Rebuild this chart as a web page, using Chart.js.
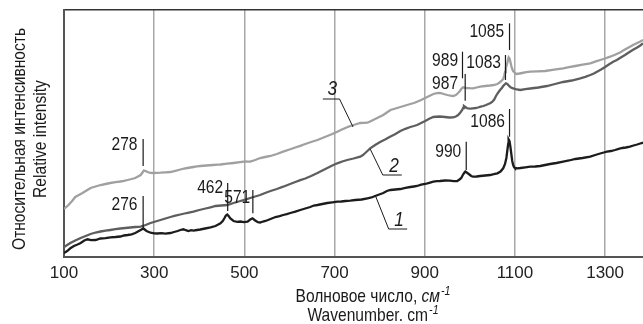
<!DOCTYPE html>
<html>
<head>
<meta charset="utf-8">
<script src="https://cdn.jsdelivr.net/npm/chart.js@4/dist/chart.umd.min.js"></script>
<style>
html,body{margin:0;padding:0;background:#fff;}
#c{display:block;}
</style>
</head>
<body>
<canvas id="c" width="643" height="324"></canvas>
<script>
// ---------------- DATA ----------------
const xTickValues = [100, 300, 500, 700, 900, 1100, 1300];

// Curve 1 (black)
const wn1 = [100,107,114,122,130,137,145,152,160,170,181,192,203,214,225,233,241,250,258,264,270,276,283,292,300,307,316,325,336,344,352,358,365,370,376,382,387,395,402,413,425,436,447,452,456,459,462,465,469,476,484,491,499,507,513,518,524,530,535,541,547,558,569,578,586,594,602,613,624,635,646,654,662,673,684,695,706,715,724,735,746,760,773,782,790,799,808,816,824,835,846,857,868,876,883,892,901,910,919,927,934,945,956,964,972,977,981,985,988,990,993,996,999,1003,1007,1015,1023,1034,1045,1053,1061,1068,1074,1078,1081,1083,1085,1086,1088,1090,1092,1094,1096,1098,1100,1106,1112,1123,1134,1145,1156,1167,1178,1192,1207,1220,1234,1250,1267,1278,1289,1297,1304,1313,1322,1330,1338,1346,1355,1363,1371,1378,1384];
const int1 = [4,6,8.7,11,12.5,14,16.5,17.7,16.8,17,18.5,18.8,19.7,20,20.5,21.5,22,22.7,24,25.5,27,28.5,26,24.3,23.7,23.5,23.8,23.3,24,25,26,27,27.7,26.8,26,26.8,26.3,27,27.5,28.5,29.7,31,33.7,36,39,41.5,42.5,41,38.5,36,35.2,35.5,34.8,35.3,37.5,38.7,36.5,34.8,34.5,35.5,36,38,40,40.8,42,42.8,44,45.3,47,48.5,50,51.5,52,53,54,54.6,55.3,55.5,56,56.3,57,57.5,58.7,59.5,61,62.5,64,66,67,67.5,68,69.2,70,70.5,71,72.3,73,74.2,75.3,75.8,76,76.5,76.3,75.8,76,77.5,79,82.5,84.5,85.5,84.5,83.5,82.5,81,80.3,80.5,81,81.5,82,82.8,83.7,85.5,88.7,93,99,106,113,117.7,116,110,103,96,92,90,89,88.7,89,89.7,90.3,90.5,91,92,93,94,95.3,96.5,98,99,100.3,102,103.5,104.5,105.3,106,107,108.2,109,109.5,110.3,111.5,112.5,113.5,114.3];

// Curve 2 (dark grey)
const wn2 = [100,107,114,125,137,148,159,170,181,192,203,214,225,236,247,258,270,281,292,303,314,325,336,347,358,372,387,400,414,425,436,449,462,476,491,502,513,524,535,546,558,572,586,600,613,624,635,648,662,673,684,695,706,717,728,742,757,763,768,774,779,790,801,812,823,835,846,857,868,876,883,892,901,910,919,932,945,954,963,969,974,979,983,985,987,990,993,996,1002,1007,1013,1018,1024,1030,1036,1041,1046,1050,1054,1058,1063,1067,1071,1074,1077,1080,1083,1087,1091,1096,1104,1112,1123,1134,1152,1171,1189,1207,1226,1245,1256,1267,1275,1282,1291,1300,1309,1318,1326,1333,1344,1355,1363,1371,1378,1384];
const int2 = [10,12,14,16.5,19,21,23,24.5,25.5,26.3,27,27.8,28.5,29,29.5,30,30.3,32,34,35.5,37,38.5,40,41.3,42.5,44,45.3,47,48.5,49.7,51,51.5,52,54,56,57.3,59,60.5,62,64,66,68,70.3,72.8,75,76.8,78.5,81,84,86.5,89,91.5,93.7,95.5,97,98.5,100.3,102,104,106.5,108.7,112,115,117.5,120.3,123,126,128.2,130,131,132,134,136,138.2,140,140.5,140,139.5,139.7,140.5,142,144.5,147,149,151,150,149,148.6,148.3,148.7,149,149.5,150.3,151,152,153,154,155.3,157.5,161,164.5,167,169,171,172.5,173.7,173,171,169.5,168.7,167.5,167,167.8,168.5,169.5,171,173,175,176.5,178.7,180.2,182,183.5,185.3,187.5,190,192.8,195.3,197,199,202,205.3,207.5,209.5,211.5,213.7];

// Curve 3 (light grey)
const wn3 = [100,105,110,118,125,133,141,150,159,170,181,192,203,214,225,233,241,250,258,264,270,274,277,281,285,290,296,305,314,325,336,347,358,366,374,380,387,395,402,416,431,440,447,462,476,490,502,508,513,524,535,546,558,572,586,600,613,624,635,648,662,673,684,695,706,715,724,730,735,746,757,765,773,781,790,799,808,816,824,835,846,857,868,876,883,892,901,910,919,927,934,942,950,957,963,969,974,978,981,983,985,988,992,1000,1007,1015,1023,1034,1045,1053,1061,1066,1070,1074,1076,1078,1080,1083,1086,1088,1090,1092,1094,1096,1098,1103,1110,1116,1125,1134,1150,1167,1187,1207,1220,1234,1250,1267,1278,1289,1300,1311,1322,1333,1344,1355,1363,1371,1378,1384];
const int3 = [48,50,52,56,60,62,64,66.5,69,70.5,72,73,74,74.8,75.5,76.2,77,78,79,80.5,82,84.5,86.5,86,85,84.3,84,84.2,84.3,84.6,85,86.2,87.5,88.3,89,89.5,90,90.6,91,91.5,92,92.3,92.5,93.3,94,94.8,95.5,95.3,95.3,97,99,100,101,103,105.3,107.5,109.5,111.2,113,115,117,119,121,123,125.3,127.2,129,130.2,131,132.5,134,134.2,134.3,136,138,140,142,144.5,147,148.5,150,151.5,153,154,155.3,157,159,161,163,163.8,164,163,162,161.3,161,162,164,166,168,169,169.7,169.3,169,168.8,168.7,169.5,170.3,171,171.5,172,173,174.5,176,178,181,185,189,194,199.7,198.5,195,191,188,186,185,183,183.5,184,184.8,185.3,185.6,186,187.3,188.7,189.8,191,192.3,193.7,195.3,197,198.5,200.3,202.3,204.5,207.5,210.3,212.2,214,215.5,217];

// Peak marks (wavenumber of mark, top/bottom intensity, label anchor)
const peakText     = ['278','276','462','571','990','1086','987','989','1083','1085'];
const peakWn       = [275.5,275.5,463,518.8,992,1088,989.7,983.7,1079,1088];
const peakTop      = [118,61,74,67,115.3,148,183,205.3,202,233.7];
const peakBottom   = [91,29,46,43.7,87,120.3,156.3,178.7,177,207];
const peakLabelWn  = [263,263,453,513,981,1078,974,974,1069,1076];
const peakLabelInt = [112,52,69,59.3,105.3,135.3,173,196,194.7,225.3];

// Curve numbers with underline and leader
const curveNames   = ['1','2','3'];
const nameWn       = [843,832,695];
const nameInt      = [37,90.5,168];
const ulFromWn     = [820,807,674];
const ulToWn       = [861,849,711];
const ulInt        = [28,82,158];
const leadFromWn   = [820,807,711];
const leadToWn     = [790,779,741];
const leadToInt    = [62,108,130];

// Texts
const yTitleRu = 'Относительная интенсивность';
const yTitleEn = 'Relative intensity';
const xTitleRu = 'Волновое число, ';
const xUnitRu  = 'см';
const xTitleEn = 'Wavenumber. ';
const xUnitEn  = 'cm';
const xExp     = '-1';

// ---------------- CHART ----------------
const FONT = '"Liberation Sans", Arial, sans-serif';
const NARROW = 0.82;   // horizontal squeeze to imitate the condensed face
Chart.defaults.font.family = FONT;
Chart.defaults.color = '#222';

const toPts = (xs, ys) => xs.map((x, i) => ({x: x, y: ys[i]}));

function sText(ctx, text, x, y, font, align, rot) {
  ctx.save();
  ctx.font = font;
  ctx.textAlign = align;
  ctx.translate(x, y);
  if (rot) ctx.rotate(rot);
  ctx.scale(NARROW, 1);
  ctx.fillText(text, 0, 0);
  ctx.restore();
}

const annotPlugin = {
  id: 'annot',
  afterDatasetsDraw(chart) {
    const ctx = chart.ctx, x = chart.scales.x, y = chart.scales.y;
    ctx.save();
    ctx.strokeStyle = '#1a1a1a';
    ctx.fillStyle = '#1a1a1a';
    ctx.lineWidth = 1.2;
    ctx.textBaseline = 'middle';
    peakText.forEach((t, i) => {
      const px = x.getPixelForValue(peakWn[i]);
      ctx.beginPath();
      ctx.moveTo(px, y.getPixelForValue(peakTop[i]));
      ctx.lineTo(px, y.getPixelForValue(peakBottom[i]));
      ctx.stroke();
      sText(ctx, t, x.getPixelForValue(peakLabelWn[i]), y.getPixelForValue(peakLabelInt[i]), '19px ' + FONT, 'right');
    });
    ctx.lineWidth = 1;
    curveNames.forEach((t, i) => {
      sText(ctx, t, x.getPixelForValue(nameWn[i]), y.getPixelForValue(nameInt[i]), 'italic 21px ' + FONT, 'center');
      const uy = y.getPixelForValue(ulInt[i]);
      ctx.beginPath();
      ctx.moveTo(x.getPixelForValue(ulFromWn[i]), uy);
      ctx.lineTo(x.getPixelForValue(ulToWn[i]), uy);
      ctx.moveTo(x.getPixelForValue(leadFromWn[i]), uy);
      ctx.lineTo(x.getPixelForValue(leadToWn[i]), y.getPixelForValue(leadToInt[i]));
      ctx.stroke();
    });
    ctx.restore();
  }
};

const titlePlugin = {
  id: 'axisTitles',
  afterDraw(chart) {
    const ctx = chart.ctx, a = chart.chartArea;
    ctx.save();
    ctx.fillStyle = '#1a1a1a';
    ctx.textBaseline = 'middle';
    // y title (two lines, rotated)
    const cy = (a.top + a.bottom) / 2 + 5.5;
    sText(ctx, yTitleRu, a.left - 44.5, cy, '19px ' + FONT, 'center', -Math.PI / 2);
    sText(ctx, yTitleEn, a.left - 23, cy, '19px ' + FONT, 'center', -Math.PI / 2);
    // x title (two lines, italic unit, superscript exponent)
    const cx = (a.left + a.right) / 2 + 19;
    const lines = [
      {y: a.bottom + 40, segs: [[xTitleRu, '19px '], [xUnitRu, 'italic 19px '], [xExp, 'italic 13px ']]},
      {y: a.bottom + 59, segs: [[xTitleEn, '19px '], [xUnitEn, '19px '], [xExp, 'italic 13px ']]}
    ];
    lines.forEach(l => {
      let w = 0;
      l.segs.forEach(s => { ctx.font = s[1] + FONT; w += ctx.measureText(s[0]).width * NARROW; });
      let px = cx - w / 2;
      l.segs.forEach((s, j) => {
        ctx.font = s[1] + FONT;
        const dy = (j === 2) ? -6 : 0;
        sText(ctx, s[0], px, l.y + dy, s[1] + FONT, 'left');
        px += ctx.measureText(s[0]).width * NARROW + (j === 1 ? 1 : 0);
      });
    });
    ctx.restore();
  }
};

new Chart(document.getElementById('c'), {
  type: 'line',
  data: {
    datasets: [
      {label: '1', data: toPts(wn1, int1), borderColor: '#1c1c1c', borderWidth: 2.3, pointRadius: 0, tension: 0},
      {label: '2', data: toPts(wn2, int2), borderColor: '#5e5e5e', borderWidth: 2.3, pointRadius: 0, tension: 0},
      {label: '3', data: toPts(wn3, int3), borderColor: '#a0a0a0', borderWidth: 2.3, pointRadius: 0, tension: 0}
    ]
  },
  options: {
    responsive: false,
    animation: false,
    devicePixelRatio: 1,
    layout: {padding: 0},
    plugins: {legend: {display: false}, tooltip: {enabled: false}},
    scales: {
      x: {
        type: 'linear', position: 'bottom', min: 100, max: 1384,
        afterBuildTicks: s => { s.ticks = xTickValues.map(v => ({value: v})); },
        afterFit: s => { s.height = 67; },
        ticks: {font: {size: 17}, color: '#222', padding: 6, maxRotation: 0, autoSkip: false,
                callback: v => String(v)},
        grid: {color: c => (c.tick && c.tick.value === 100) ? 'rgba(0,0,0,0)' : '#a8a8a8', lineWidth: 1.5, drawTicks: false},
        border: {display: true, color: '#555', width: 2}
      },
      xTop: {
        type: 'linear', position: 'top', axis: 'x', min: 0, max: 1,
        afterFit: s => { s.height = 10; },
        ticks: {display: false},
        grid: {display: false, drawTicks: false},
        border: {display: true, color: '#333', width: 1.5}
      },
      y: {
        type: 'linear', position: 'left', min: 0, max: 247,
        afterFit: s => { s.width = 64; },
        ticks: {display: false},
        grid: {display: false, drawTicks: false},
        border: {display: true, color: '#555', width: 2}
      }
    }
  },
  plugins: [annotPlugin, titlePlugin]
});
</script>
</body>
</html>
